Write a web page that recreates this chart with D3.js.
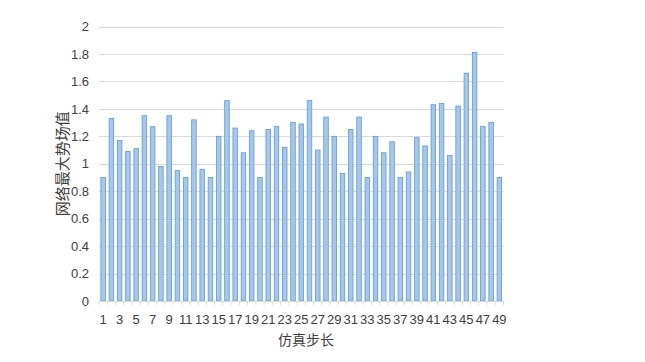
<!DOCTYPE html>
<html>
<head>
<meta charset="utf-8">
<script src="https://cdn.jsdelivr.net/npm/d3@7"></script>
<style>
  body { margin: 0; background: #fff; }
  svg { display: block; }
  .tick text { font-family: "Liberation Sans", Arial, sans-serif; font-size: 13px; fill: #404040; }
  .title { font-family: "Noto Sans CJK SC", sans-serif; font-size: 14px; fill: #404040; }
</style>
</head>
<body>
<svg width="645" height="362"></svg>
<script>
// Data for the chart
const steps = d3.range(1, 50);
const values = [
  0.90, 1.33, 1.17, 1.09, 1.11, 1.35, 1.27, 0.98, 1.35, 0.95,
  0.90, 1.32, 0.96, 0.90, 1.20, 1.46, 1.26, 1.08, 1.24, 0.90,
  1.25, 1.27, 1.12, 1.30, 1.29, 1.46, 1.10, 1.34, 1.20, 0.93,
  1.25, 1.34, 0.90, 1.20, 1.08, 1.16, 0.90, 0.94, 1.19, 1.13,
  1.43, 1.44, 1.06, 1.42, 1.66, 1.81, 1.27, 1.30, 0.90
];
const yTicks = [0, 0.2, 0.4, 0.6, 0.8, 1, 1.2, 1.4, 1.6, 1.8, 2];
const xLabel = "仿真步长";
const yLabel = "网络最大势场值";

const data = steps.map((s, i) => ({step: s, value: values[i]}));

const plotLeft = 99, plotRight = 503.5, plotTop = 26.5, plotBottom = 301;

const svg = d3.select("svg");

const x = d3.scaleBand()
    .domain(steps)
    .range([plotLeft, plotRight])
    .paddingInner(0.45)
    .paddingOuter(0.225);

const y = d3.scaleLinear()
    .domain([0, 2])
    .range([plotBottom, plotTop]);

// gridlines
svg.append("g")
    .selectAll("line")
    .data(yTicks.filter(d => d > 0))
    .join("line")
    .attr("x1", plotLeft)
    .attr("x2", plotRight)
    .attr("y1", d => Math.round(y(d)) + 0.5)
    .attr("y2", d => Math.round(y(d)) + 0.5)
    .attr("stroke", "#d9d9d9")
    .attr("stroke-width", 1);

// y axis labels only
const yAxis = svg.append("g")
    .attr("transform", `translate(${plotLeft},0)`)
    .call(d3.axisLeft(y).tickValues(yTicks).tickSize(0).tickPadding(10).tickFormat(d3.format("~g")));
yAxis.select(".domain").remove();

// bars
svg.append("g")
    .selectAll("rect")
    .data(data)
    .join("rect")
    .attr("x", d => x(d.step))
    .attr("y", d => y(d.value))
    .attr("width", x.bandwidth())
    .attr("height", d => plotBottom - y(d.value))
    .attr("fill", "#a9c6ea")
    .attr("stroke", "#5b9bd5")
    .attr("stroke-width", 0.8);

// x axis line and category ticks
const step = x.step();
svg.append("line")
    .attr("x1", plotLeft).attr("x2", plotRight)
    .attr("y1", plotBottom + 0.5).attr("y2", plotBottom + 0.5)
    .attr("stroke", "#d9d9d9");
svg.append("g")
    .selectAll("line")
    .data(d3.range(steps.length + 1))
    .join("line")
    .attr("x1", i => plotLeft + i * step)
    .attr("x2", i => plotLeft + i * step)
    .attr("y1", plotBottom)
    .attr("y2", plotBottom + 4)
    .attr("stroke", "#d9d9d9");

const xAxis = svg.append("g")
    .attr("transform", `translate(0,${plotBottom})`)
    .call(d3.axisBottom(x).tickValues(steps.filter(s => s % 2 === 1)).tickSize(0).tickPadding(14));
xAxis.select(".domain").remove();

// titles
svg.append("text")
    .attr("class", "title")
    .attr("x", 306)
    .attr("y", 345)
    .attr("text-anchor", "middle")
    .text(xLabel);

svg.append("text")
    .attr("class", "title")
    .attr("transform", `translate(68,${(plotTop + plotBottom) / 2}) rotate(-90)`)
    .attr("text-anchor", "middle")
    .style("font-size", "15px")
    .text(yLabel);
</script>
</body>
</html>
